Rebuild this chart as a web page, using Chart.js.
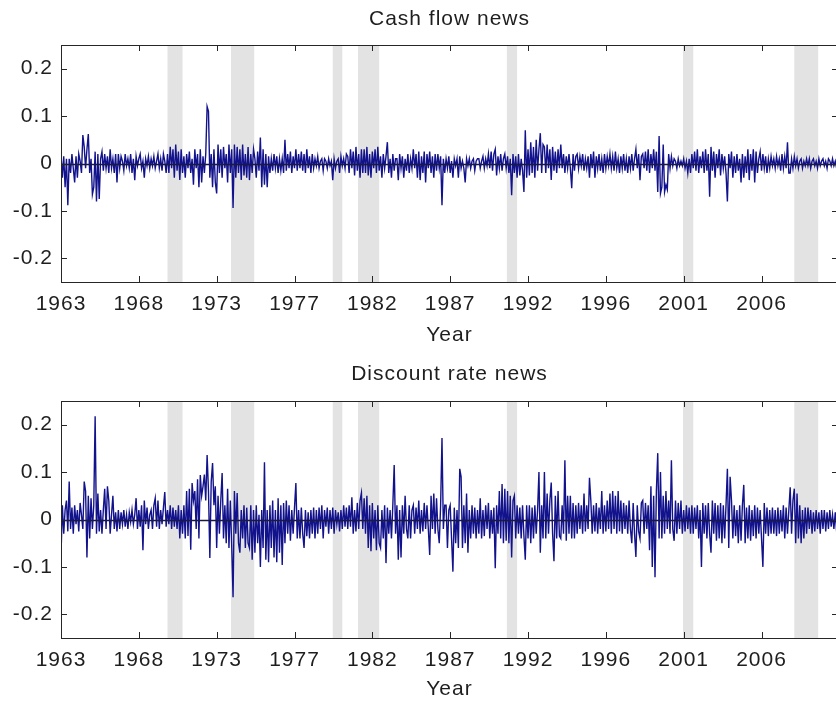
<!DOCTYPE html>
<html>
<head>
<meta charset="utf-8">
<script src="https://cdn.jsdelivr.net/npm/chart.js@4.4.1/dist/chart.umd.min.js"></script>
<style>
  html, body { margin: 0; padding: 0; background: #fff; overflow: hidden; width: 836px; height: 707px; }
  canvas { position: absolute; left: 0; }
  #cfChart { top: 0; }
  #drChart { top: 353px; }
</style>
</head>
<body>
<canvas id="cfChart" width="838" height="353"></canvas>
<canvas id="drChart" width="838" height="354"></canvas>
<script>
// Monthly news series, 1963:07 - 2010:12, one row per year
var cashFlowNews = [
  0.02, -0.03, 0.015, -0.05, 0.01, -0.088,
  0.01, -0.02, 0.02, -0.01, -0.04, 0.015, -0.03, 0.02, 0.005, -0.02, 0.06, 0.035,
  -0.01, 0.03, 0.062, -0.02, 0.01, -0.065, -0.05, 0.025, -0.08, 0.02, -0.075, 0.01,
  0.025, -0.015, 0.02, -0.01, 0.015, -0.02, 0.03, -0.01, 0.01, -0.02, 0.02, -0.04,
  0.02, -0.01, 0.015, 0.005, -0.015, 0.02, -0.005, 0.01, -0.01, 0.02, -0.02, 0.01,
  -0.035, 0.015, -0.005, 0.01, 0.02, -0.01, 0.005, -0.03, 0.01, -0.005, 0.015, -0.01,
  0.01, -0.005, 0.015, -0.01, 0.005, 0.02, -0.01, 0.01, -0.015, 0.02, 0.005, -0.02,
  0.02, -0.02, 0.035, -0.01, 0.03, -0.03, 0.04, -0.015, 0.025, -0.035, 0.03, -0.02,
  0.015, -0.03, 0.02, -0.01, 0.025, -0.02, 0.01, -0.045, 0.03, -0.01, 0.02, -0.05,
  0.03, -0.04, 0.015, -0.02, 0.02, 0.12, 0.11, -0.03, 0.02, -0.05, 0.03, -0.04,
  -0.063, 0.04, -0.02, 0.03, -0.03, 0.035, -0.01, 0.02, -0.04, 0.04, -0.02, 0.03,
  -0.094, 0.04, -0.03, 0.035, -0.02, 0.03, -0.035, 0.04, -0.025, 0.02, -0.03, 0.035,
  -0.035, 0.02, -0.02, 0.03, 0.01, -0.03, 0.025, -0.015, 0.055, -0.05, 0.03, -0.045,
  0.02, -0.05, 0.015, -0.02, 0.01, -0.015, 0.02, -0.01, 0.015, -0.02, 0.01, -0.015,
  0.01, -0.02, 0.05, -0.015, 0.02, -0.01, 0.025, -0.02, 0.015, -0.01, 0.03, -0.015,
  0.02, -0.01, 0.025, -0.015, 0.02, -0.02, 0.03, -0.01, 0.015, -0.02, 0.02, -0.01,
  0.01, -0.005, 0.015, -0.01, 0.005, 0.01, -0.015, 0.01, 0.005, -0.01, 0.01, -0.005,
  0.005, -0.035, 0.01, -0.01, 0.005, 0.01, -0.02, 0.015, -0.005, 0.01, -0.01, 0.02,
  0.015, -0.02, 0.03, -0.01, 0.025, -0.025, 0.035, -0.015, 0.02, -0.03, 0.03, -0.02,
  0.03, -0.02, 0.035, -0.025, 0.02, -0.03, 0.025, -0.01, 0.03, -0.02, 0.035, -0.015,
  0.015, -0.03, 0.02, -0.01, 0.015, 0.045, -0.02, 0.01, -0.03, 0.02, -0.015, 0.01,
  0.01, -0.035, 0.02, -0.01, 0.015, -0.03, 0.01, -0.015, 0.02, -0.02, 0.01, -0.01,
  0.03, -0.01, 0.02, -0.03, 0.025, -0.035, 0.015, -0.02, 0.025, -0.04, 0.02, -0.01,
  0.025, -0.02, 0.015, -0.03, 0.02, -0.015, 0.02, -0.01, 0.015, -0.088, 0.01, -0.02,
  0.01, -0.01, 0.015, -0.02, 0.005, -0.03, 0.01, -0.005, 0.01, -0.03, 0.015, -0.01,
  0.005, -0.01, -0.04, 0.01, -0.005, 0.01, -0.01, 0.005, 0.01, -0.015, 0.005, 0.01,
  0.01, -0.01, 0.005, 0.015, -0.01, 0.01, -0.005, 0.02, -0.01, 0.025, -0.015, 0.02,
  0.03, -0.025, 0.015, -0.01, 0.02, -0.015, 0.01, 0.02, -0.01, 0.015, -0.02, 0.01,
  -0.067, 0.02, -0.02, 0.015, -0.03, 0.02, -0.025, 0.01, -0.015, -0.06, 0.07, -0.03,
  0.03, -0.025, 0.045, -0.02, 0.035, -0.03, 0.05, -0.015, 0.03, 0.064, -0.02, 0.04,
  0.035, -0.02, 0.04, -0.01, 0.03, -0.035, 0.035, -0.015, 0.025, -0.02, 0.03, -0.01,
  0.04, -0.01, 0.02, -0.02, 0.015, -0.01, 0.02, -0.01, -0.052, 0.02, -0.015, 0.015,
  0.02, -0.01, 0.015, -0.005, 0.02, -0.015, 0.01, -0.01, 0.015, -0.03, 0.02, -0.01,
  0.025, -0.03, 0.015, -0.01, 0.02, -0.015, 0.01, -0.02, 0.02, -0.01, 0.015, -0.005,
  0.02, -0.01, 0.015, -0.015, 0.025, -0.01, 0.01, -0.02, 0.015, -0.01, 0.02, -0.015,
  0.01, -0.02, 0.015, -0.01, 0.02, -0.015, 0.01, 0.03, -0.01, 0.02, -0.035, 0.015,
  0.02, -0.01, 0.025, -0.015, 0.03, -0.02, 0.02, -0.01, 0.03, -0.015, 0.025, -0.06,
  0.058, -0.063, -0.05, 0.04, -0.06, -0.045, -0.055, 0.02, -0.01, 0.015, -0.005, 0.01,
  0.005, -0.01, 0.01, -0.005, 0.005, -0.005, 0.01, -0.01, 0.005, -0.02, 0.01, -0.02,
  0.02, -0.01, 0.025, -0.015, 0.03, -0.02, 0.015, -0.01, 0.025, -0.02, 0.03, -0.015,
  0.02, -0.07, 0.035, -0.015, 0.025, -0.03, 0.02, -0.01, 0.03, -0.025, 0.02, -0.01,
  0.015, -0.02, -0.08, 0.02, -0.01, 0.025, -0.03, 0.015, -0.02, 0.02, -0.015, 0.01,
  -0.04, 0.02, -0.03, 0.015, -0.02, 0.03, -0.035, 0.02, -0.015, 0.03, -0.04, 0.025,
  -0.02, 0.01, 0.025, -0.015, 0.02, -0.01, 0.015, -0.02, 0.01, -0.01, 0.015, -0.005,
  0.01, -0.01, 0.015, -0.005, 0.01, -0.015, 0.02, -0.01, 0.015, -0.01, 0.045, -0.02,
  -0.02, 0.01, -0.01, 0.015, -0.005, 0.01, -0.01, 0.005, 0.01, -0.01, 0.005, -0.005,
  0.01, -0.005, 0.01, -0.01, 0.005, 0.01, -0.005, 0.005, -0.01, 0.01, -0.005, 0.005,
  0.01, -0.005, 0.005, -0.01, 0.01, 0.005, -0.005, 0.01, -0.005, 0.005, -0.01, 0.005
];

var discountRateNews = [
  -0.078, 0.03, -0.03, 0.02, 0.04, -0.025,
  0.08, -0.02, 0.025, -0.03, 0.03, -0.01, 0.02, -0.025, 0.035, 0.01, -0.02, 0.08,
  0.06, -0.08, 0.05, -0.04, 0.045, -0.02, 0.03, 0.218, -0.03, 0.055, -0.025, 0.02,
  -0.03, 0.02, 0.065, -0.02, 0.07, 0.04, -0.03, 0.01, 0.05, -0.02, 0.015, -0.025,
  0.02, -0.02, 0.015, -0.01, 0.02, -0.015, 0.01, -0.02, 0.015, -0.005, 0.02, -0.01,
  0.01, 0.045, -0.02, 0.02, -0.015, 0.03, -0.065, 0.04, -0.01, 0.025, -0.02, 0.01,
  0.02, -0.02, 0.03, 0.045, -0.015, 0.04, -0.02, 0.02, -0.01, 0.025, 0.058, -0.015,
  0.02, -0.01, 0.03, -0.02, 0.025, -0.015, 0.02, -0.02, 0.03, -0.04, 0.02, -0.03,
  0.03, -0.04, 0.06, -0.035, 0.065, -0.064, 0.077, 0.04, 0.06, -0.02, 0.085, -0.04,
  0.094, 0.05, 0.07, 0.095, 0.04, 0.136, 0.06, -0.081, 0.08, 0.119, 0.03, 0.07,
  -0.06, 0.05, -0.03, 0.04, 0.098, -0.04, 0.03, -0.05, 0.065, -0.06, 0.04, -0.055,
  -0.164, 0.06, -0.03, 0.056, -0.05, -0.07, 0.02, -0.04, 0.03, -0.06, 0.025, -0.05,
  -0.06, 0.03, -0.085, 0.02, -0.07, 0.03, -0.05, 0.01, -0.1, 0.02, -0.06, 0.121,
  -0.085, 0.02, -0.09, 0.03, -0.06, 0.04, -0.08, 0.02, -0.09, 0.045, -0.07, 0.03,
  -0.096, 0.035, -0.05, 0.04, -0.03, 0.03, -0.045, 0.02, -0.03, 0.025, 0.077, -0.04,
  0.02, -0.04, 0.025, -0.03, -0.06, 0.02, -0.035, 0.015, -0.04, 0.02, -0.03, 0.025,
  -0.04, 0.02, -0.03, 0.025, -0.02, 0.03, -0.04, 0.02, -0.015, 0.025, -0.03, 0.02,
  -0.02, 0.025, -0.03, 0.02, -0.01, 0.015, -0.025, 0.02, -0.02, 0.03, -0.015, 0.025,
  -0.02, 0.03, -0.015, 0.047, -0.03, 0.02, -0.025, 0.035, -0.02, 0.04, 0.056, -0.02,
  0.045, -0.03, 0.05, -0.06, 0.03, -0.067, 0.035, -0.04, 0.02, -0.065, 0.03, -0.05,
  -0.06, 0.02, -0.04, 0.03, -0.092, 0.025, -0.03, 0.02, -0.04, 0.03, 0.115, -0.03,
  0.03, -0.085, 0.02, -0.08, 0.03, -0.03, 0.05, -0.02, -0.04, 0.03, -0.04, 0.02,
  0.03, -0.03, 0.025, -0.02, 0.04, -0.03, 0.02, -0.025, 0.035, -0.02, 0.03, -0.02,
  -0.075, 0.05, -0.02, 0.055, -0.03, 0.045, -0.02, -0.05, 0.03, 0.172, -0.02, 0.03,
  0.03, -0.06, 0.02, 0.03, -0.04, -0.11, 0.025, -0.05, 0.02, -0.06, 0.107, 0.09,
  -0.06, 0.03, -0.05, 0.055, -0.07, 0.02, -0.04, 0.03, -0.03, 0.025, -0.04, 0.02,
  -0.03, 0.045, -0.04, 0.02, -0.035, 0.03, -0.02, 0.035, -0.04, 0.02, -0.03, 0.025,
  -0.103, 0.03, -0.03, 0.06, -0.04, 0.075, -0.05, 0.065, -0.045, 0.06, -0.05, 0.05,
  -0.08, 0.04, 0.05, -0.04, 0.03, -0.03, 0.025, -0.04, 0.03, -0.035, -0.085, 0.03,
  -0.04, 0.03, -0.05, 0.025, -0.04, 0.03, -0.03, 0.02, 0.1, -0.07, 0.03, -0.04,
  0.1, -0.04, 0.055, -0.03, 0.04, 0.078, -0.03, -0.088, 0.05, -0.04, 0.06, -0.035,
  -0.04, 0.03, -0.03, 0.125, -0.045, 0.05, -0.03, 0.05, -0.04, 0.035, -0.04, 0.03,
  -0.03, 0.035, -0.02, 0.03, -0.03, 0.055, -0.025, 0.03, -0.02, 0.088, 0.04, -0.03,
  0.03, -0.025, 0.035, -0.03, 0.025, -0.02, 0.06, -0.03, 0.03, -0.025, 0.04, -0.02,
  0.055, -0.03, 0.06, -0.02, 0.05, -0.03, 0.06, -0.025, 0.04, -0.03, 0.035, -0.02,
  0.03, -0.03, 0.04, -0.02, -0.05, 0.035, -0.03, -0.079, 0.03, -0.025, -0.04, 0.035,
  0.04, -0.03, 0.035, -0.02, 0.03, -0.065, 0.07, -0.1, 0.05, -0.122, 0.06, 0.14,
  -0.04, 0.1, -0.04, 0.05, -0.03, 0.06, -0.02, 0.04, -0.03, 0.125, -0.02, -0.045,
  0.04, -0.03, 0.035, -0.02, 0.04, -0.03, 0.02, -0.025, 0.03, -0.02, 0.025, -0.03,
  0.03, -0.03, 0.025, -0.02, 0.03, -0.04, 0.02, -0.1, 0.035, -0.03, 0.03, -0.04,
  0.035, -0.03, -0.07, 0.04, -0.03, 0.035, -0.045, 0.03, -0.04, 0.035, -0.05, 0.03,
  -0.04, 0.03, 0.107, -0.06, 0.09, 0.04, -0.04, 0.03, -0.035, 0.02, -0.05, 0.03,
  -0.045, 0.03, 0.073, -0.05, 0.025, -0.04, 0.03, -0.045, 0.02, -0.035, 0.03, -0.04,
  0.025, -0.03, 0.02, -0.04, -0.1, 0.035, -0.03, 0.025, -0.035, 0.02, -0.03, 0.025,
  -0.03, 0.02, -0.035, 0.025, -0.03, 0.02, -0.025, 0.03, -0.04, 0.025, -0.03, 0.02,
  0.068, -0.03, 0.04, 0.065, -0.05, 0.055, -0.04, 0.03, -0.05, 0.02, -0.04, 0.025,
  -0.03, 0.025, -0.02, 0.02, -0.03, 0.015, -0.025, 0.02, -0.02, 0.015, -0.03, 0.02,
  -0.02, 0.02, -0.025, 0.015, -0.02, 0.02, -0.015, 0.01, -0.02, 0.015, -0.025, 0.02
];

// year labels, one every 57 months starting at the first observation
var xTickLabels = ['1963', '1968', '1973', '1977', '1982', '1987', '1992', '1996', '2001', '2006'];
var xTickStep = 57;
var yTicks = [-0.2, -0.1, 0, 0.1, 0.2];
var yTickLabels = ['-0.2', '-0.1', '0', '0.1', '0.2'];

// recession bands, in months from 1963:07
var recessionStart = [78, 124.5, 199, 217.5, 326.5, 455.5, 537];
var recessionEnd = [89, 141.5, 206, 233, 334, 463, 554.5];

var fontFamily = "'Liberation Sans', Arial, sans-serif";
var textColor = '#1e1e1e';

var spacingPlugin = {
    id: 'spacing',
    beforeLayout: function (chart) { chart.ctx.letterSpacing = '1px'; },
    beforeDraw: function (chart) { chart.ctx.letterSpacing = '1px'; }
};

var shadePlugin = {
    id: 'shade',
    beforeDatasetsDraw: function (chart) {
        var ctx = chart.ctx, a = chart.chartArea, x = chart.scales.x;
        ctx.save();
        ctx.fillStyle = '#e3e3e3';
        for (var i = 0; i < recessionStart.length; i++) {
            var x0 = x.getPixelForValue(recessionStart[i]);
            var x1 = x.getPixelForValue(recessionEnd[i]);
            ctx.fillRect(x0, a.top, x1 - x0, a.bottom - a.top);
        }
        ctx.restore();
    }
};

// zero line, axes box and inward ticks (matlab look)
var framePlugin = {
    id: 'frame',
    afterDatasetsDraw: function (chart) {
        var ctx = chart.ctx, a = chart.chartArea, x = chart.scales.x, y = chart.scales.y;
        var tl = 6;
        ctx.save();
        var y0 = Math.round(y.getPixelForValue(0)) + 0.5;
        ctx.strokeStyle = '#1a1a40';
        ctx.lineWidth = 1.3;
        ctx.beginPath();
        ctx.moveTo(a.left, y0);
        ctx.lineTo(a.right, y0);
        ctx.stroke();

        ctx.lineWidth = 1;
        ctx.strokeStyle = '#262626';
        ctx.strokeRect(Math.round(a.left) + 0.5, Math.round(a.top) + 0.5,
            Math.round(a.right - a.left), Math.round(a.bottom - a.top));
        ctx.beginPath();
        x.ticks.forEach(function (t) {
            var px = Math.round(x.getPixelForValue(t.value)) + 0.5;
            ctx.moveTo(px, a.top); ctx.lineTo(px, a.top + tl);
            ctx.moveTo(px, a.bottom); ctx.lineTo(px, a.bottom - tl);
        });
        y.ticks.forEach(function (t) {
            var py = Math.round(y.getPixelForValue(t.value)) + 0.5;
            ctx.moveTo(a.left, py); ctx.lineTo(a.left + tl, py);
            ctx.moveTo(a.right, py); ctx.lineTo(a.right - tl, py);
        });
        ctx.stroke();
        ctx.restore();
    }
};

function makeChart(id, title, values, topH, titlePad, bottomH) {
    var points = values.map(function (v, i) { return { x: i, y: v }; });
    var font = { family: fontFamily, size: 21 };
    return new Chart(document.getElementById(id), {
        type: 'line',
        data: {
            datasets: [{
                data: points,
                borderColor: '#12128c',
                borderWidth: 1.4,
                pointRadius: 0,
                tension: 0,
                fill: false
            }]
        },
        options: {
            responsive: false,
            animation: false,
            devicePixelRatio: 1,
            layout: { padding: 0 },
            plugins: { legend: { display: false }, tooltip: { enabled: false } },
            scales: {
                x: {
                    type: 'linear', position: 'bottom', min: 0, max: values.length - 1,
                    grid: { display: false, drawTicks: false }, border: { display: false },
                    afterBuildTicks: function (s) {
                        s.ticks = xTickLabels.map(function (_, i) { return { value: i * xTickStep }; });
                    },
                    ticks: {
                        autoSkip: false, maxRotation: 0, padding: 10, color: textColor, font: font,
                        callback: function (v, i) { return xTickLabels[i]; }
                    },
                    title: { display: true, text: 'Year', color: textColor, font: font, padding: { top: 0, bottom: 5 } },
                    afterFit: function (s) { s.height = bottomH; }
                },
                xTop: {
                    type: 'linear', axis: 'x', position: 'top', min: 0, max: values.length - 1,
                    grid: { display: false, drawTicks: false }, border: { display: false },
                    ticks: { display: false },
                    title: { display: true, text: title, color: textColor, font: font, padding: { top: titlePad, bottom: 0 } },
                    afterFit: function (s) { s.height = topH; }
                },
                y: {
                    type: 'linear', min: -0.25, max: 0.25,
                    grid: { display: false, drawTicks: false }, border: { display: false },
                    afterBuildTicks: function (s) {
                        s.ticks = yTicks.map(function (v) { return { value: v }; });
                    },
                    ticks: {
                        padding: 8, color: textColor, font: font,
                        callback: function (v, i) { return yTickLabels[i]; }
                    },
                    afterFit: function (s) { s.width = 61; }
                }
            }
        },
        plugins: [spacingPlugin, shadePlugin, framePlugin]
    });
}

makeChart('cfChart', 'Cash flow news', cashFlowNews, 45, 7, 71);
makeChart('drChart', 'Discount rate news', discountRateNews, 48, 9, 69);
</script>
</body>
</html>
